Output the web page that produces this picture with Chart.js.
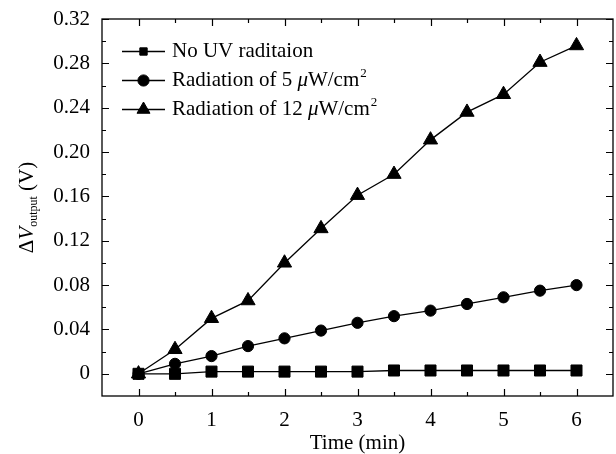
<!DOCTYPE html>
<html>
<head>
<meta charset="utf-8">
<script src="https://cdn.jsdelivr.net/npm/chart.js@4/dist/chart.umd.min.js"></script>
<style>
html,body{margin:0;padding:0;background:#fff;}
#wrap{width:616px;height:454px;}
</style>
</head>
<body>
<div id="wrap"><canvas id="c" width="616" height="454"></canvas></div>
<script>
// ---- data ----
const timeMin = [0, 0.5, 1, 1.5, 2, 2.5, 3, 3.5, 4, 4.5, 5, 5.5, 6];
const noUV = [0, 0, 0.002, 0.002, 0.002, 0.002, 0.002, 0.003, 0.003, 0.003, 0.003, 0.003, 0.003];
const uv5 = [0, 0.009, 0.016, 0.025, 0.032, 0.039, 0.046, 0.052, 0.057, 0.063, 0.069, 0.075, 0.080];
const uv12 = [0, 0.022, 0.050, 0.066, 0.100, 0.131, 0.161, 0.180, 0.211, 0.236, 0.252, 0.281, 0.296];
const seriesNames = ['No UV raditaion', 'Radiation of 5 ', 'Radiation of 12 '];
const xTickValues = [0, 1, 2, 3, 4, 5, 6];
const xTickLabels = ['0', '1', '2', '3', '4', '5', '6'];
const yTickValues = [0, 0.04, 0.08, 0.12, 0.16, 0.20, 0.24, 0.28, 0.32];
const yTickLabels = ['0', '0.04', '0.08', '0.12', '0.16', '0.20', '0.24', '0.28', '0.32'];
const xTitle = 'Time (min)';

const FONT = '"Liberation Serif", "Times New Roman", serif';
const pts = arr => arr.map((v, i) => ({x: timeMin[i], y: v}));

function ds(label, data, style, r) {
  return {
    label, data: pts(data), borderColor: '#000', backgroundColor: '#000',
    borderWidth: 1.3, pointStyle: style, pointRadius: r, pointHoverRadius: r,
    pointBackgroundColor: '#000', pointBorderColor: '#000', pointBorderWidth: 1,
    tension: 0, fill: false, clip: 12
  };
}

const decor = {
  id: 'decor',
  afterDraw(chart) {
    const ctx = chart.ctx, a = chart.chartArea;
    const xs = chart.scales.x, ys = chart.scales.y;
    ctx.save();
    ctx.strokeStyle = '#000';
    ctx.lineWidth = 1.3;
    ctx.strokeRect(a.left, a.top, a.right - a.left, a.bottom - a.top);
    ctx.lineWidth = 1.2;
    const MAJ = 7, MIN = 4;
    function xTick(v, len) {
      const px = Math.round(xs.getPixelForValue(v)) + 0.5;
      ctx.beginPath();
      ctx.moveTo(px, a.bottom); ctx.lineTo(px, a.bottom - len);
      ctx.moveTo(px, a.top); ctx.lineTo(px, a.top + len);
      ctx.stroke();
    }
    function yTick(v, len) {
      const py = Math.round(ys.getPixelForValue(v)) + 0.5;
      ctx.beginPath();
      ctx.moveTo(a.left, py); ctx.lineTo(a.left + len, py);
      ctx.moveTo(a.right, py); ctx.lineTo(a.right - len, py);
      ctx.stroke();
    }
    xTickValues.forEach((v, i) => {
      xTick(v, MAJ);
      if (i < xTickValues.length - 1) xTick((v + xTickValues[i + 1]) / 2, MIN);
    });
    yTickValues.forEach((v, i) => {
      yTick(v, MAJ);
      if (i < yTickValues.length - 1) yTick((v + yTickValues[i + 1]) / 2, MIN);
    });

    // x title
    ctx.fillStyle = '#000';
    ctx.font = '21px ' + FONT;
    ctx.textAlign = 'center';
    ctx.textBaseline = 'alphabetic';
    ctx.fillText(xTitle, (a.left + a.right) / 2, 449);

    // y title: ΔV_output (V)
    ctx.save();
    ctx.translate(33, (a.top + a.bottom) / 2);
    ctx.rotate(-Math.PI / 2);
    ctx.textAlign = 'left';
    const parts = [
      {t: 'Δ', f: '21px ' + FONT, dy: 0},
      {t: 'V', f: 'italic 21px ' + FONT, dy: 0},
      {t: 'output', f: '12px ' + FONT, dy: 4},
      {t: ' (V)', f: '21px ' + FONT, dy: 0}
    ];
    let tot = 0;
    parts.forEach(p => { ctx.font = p.f; p.w = ctx.measureText(p.t).width; tot += p.w; });
    let x0 = -tot / 2;
    parts.forEach(p => { ctx.font = p.f; ctx.fillText(p.t, x0, p.dy); x0 += p.w; });
    ctx.restore();

    // legend
    const rows = [51, 80, 109];
    const legR = [5.2, 5.6, 7.5];
    chart.data.datasets.forEach((d, i) => {
      const y = rows[i];
      ctx.strokeStyle = '#000';
      ctx.fillStyle = '#000';
      ctx.lineWidth = 1.3;
      ctx.beginPath(); ctx.moveTo(122, y + 0.5); ctx.lineTo(165, y + 0.5); ctx.stroke();
      ctx.lineWidth = 1;
      Chart.helpers.drawPoint(ctx, {pointStyle: d.pointStyle, radius: legR[i], rotation: 0, borderWidth: 1}, 143.5, y + 0.5);
      ctx.fillStyle = '#000';
      ctx.font = '21px ' + FONT;
      ctx.textBaseline = 'middle';
      ctx.textAlign = 'left';
      let tx = 172;
      ctx.fillText(d.label, tx, y);
      tx += ctx.measureText(d.label).width;
      if (i > 0) {
        ctx.font = 'italic 21px ' + FONT;
        ctx.fillText('μ', tx, y);
        tx += ctx.measureText('μ').width;
        ctx.font = '21px ' + FONT;
        ctx.fillText('W/cm', tx, y);
        tx += ctx.measureText('W/cm').width;
        ctx.font = '13px ' + FONT;
        ctx.fillText('2', tx + 1, y - 6);
      }
    });
    ctx.restore();
  }
};

new Chart(document.getElementById('c'), {
  type: 'line',
  data: {
    datasets: [
      ds(seriesNames[0], noUV, 'rect', 7.8),
      ds(seriesNames[1], uv5, 'circle', 5.6),
      ds(seriesNames[2], uv12, 'triangle', 8.2)
    ]
  },
  options: {
    responsive: false,
    animation: false,
    layout: {autoPadding: false, padding: {top: 19, right: 3, left: 0, bottom: 0}},
    plugins: {legend: {display: false}, tooltip: {enabled: false}},
    scales: {
      x: {
        type: 'linear', min: -0.5, max: 6.5,
        grid: {display: false, drawTicks: false},
        border: {display: false},
        afterBuildTicks: s => { s.ticks = xTickValues.map(v => ({value: v})); },
        afterFit: s => { s.height = 58; s.paddingLeft = 0; s.paddingRight = 0; s.paddingTop = 0; s.paddingBottom = 0; },
        ticks: {
          color: '#000', font: {family: FONT, size: 21}, padding: 12, maxRotation: 0,
          callback: (v, i) => xTickLabels[i]
        }
      },
      y: {
        type: 'linear', min: -0.02, max: 0.32,
        grid: {display: false, drawTicks: false},
        border: {display: false},
        afterBuildTicks: s => { s.ticks = yTickValues.map(v => ({value: v})); },
        afterFit: s => { s.width = 102; s.paddingTop = 0; s.paddingBottom = 0; s.paddingLeft = 0; s.paddingRight = 0; },
        ticks: {
          color: '#000', font: {family: FONT, size: 21}, padding: 12,
          callback: (v, i) => yTickLabels[i]
        }
      }
    }
  },
  plugins: [decor]
});
</script>
</body>
</html>
